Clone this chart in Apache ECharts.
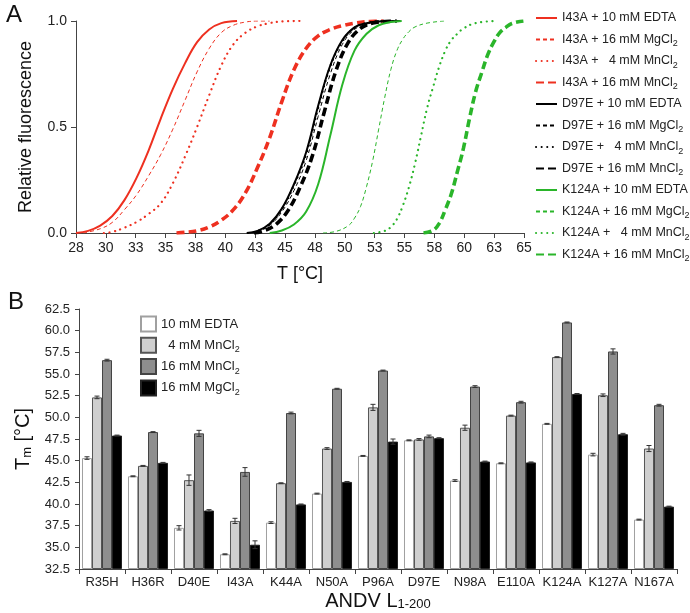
<!DOCTYPE html>
<html><head><meta charset="utf-8">
<script src="https://cdn.jsdelivr.net/npm/echarts@6/dist/echarts.min.js"></script>
<style>html,body{margin:0;padding:0;background:#fff}#c{width:690px;height:613px}</style>
</head><body><div id="c"></div>
<script>
// ---------- Panel A data ----------
const xTickLabels = ['28','30','33','35','38','40','43','45','48','50','53','55','58','60','63','65'];
const yTickLabelsA = ['0.0','0.5','1.0'];

const i43aEdta = [[28,0],[29,0.01],[30,0.035],[31,0.08],[32,0.155],[33,0.26],[34,0.39],[35,0.54],[36,0.68],[37,0.8],[38,0.9],[39,0.96],[40,0.99],[41.3,1.0]];
const i43aMg   = [[28.6,0],[30,0.02],[31,0.05],[32,0.11],[33,0.18],[34,0.27],[35,0.37],[36,0.49],[37,0.625],[38,0.76],[39,0.87],[40,0.945],[41,0.98],[42,0.995],[43,1.0],[44,1.0]];
const i43aMn4  = [[30.3,0],[31,0.005],[32,0.025],[33,0.052],[34,0.09],[35,0.14],[36,0.235],[37,0.36],[38,0.5],[39,0.65],[40,0.79],[41,0.89],[42,0.945],[43,0.975],[44,0.99],[45,0.998],[46.5,1.0]];
const i43aMn16 = [[36.3,0],[37,0.003],[38,0.01],[39,0.028],[40,0.06],[41,0.11],[42,0.19],[43,0.31],[44,0.45],[45,0.62],[46,0.77],[47,0.87],[48,0.93],[49,0.96],[50,0.978],[51,0.99],[52,0.997],[53.4,1.0]];

const d97eEdta = [[42.1,0],[43,0.01],[44,0.044],[45,0.115],[46,0.23],[47,0.38],[48,0.6],[49,0.79],[50,0.91],[51,0.97],[52,0.99],[53,0.998],[54.8,1.0]];
const d97eMg   = [[42.3,0],[43,0.008],[44,0.036],[45,0.1],[46,0.2],[47,0.34],[48,0.55],[49,0.75],[50,0.89],[51,0.96],[52,0.985],[53,0.997],[54.8,1.0]];
const d97eMn4  = [[42.2,0],[43,0.009],[44,0.042],[45,0.112],[46,0.225],[47,0.37],[48,0.59],[49,0.785],[50,0.905],[51,0.968],[52,0.99],[53,0.998],[54.5,1.0]];
const d97eMn16 = [[42.7,0],[43.5,0.01],[44.5,0.04],[45.5,0.105],[46.5,0.215],[47.5,0.36],[48.5,0.57],[49.5,0.77],[50.5,0.9],[51.5,0.965],[52.5,0.99],[53.5,0.998],[54.5,1.0]];

const k124aEdta = [[44,0],[45,0.012],[46,0.04],[47,0.1],[48,0.23],[49,0.46],[50,0.7],[51,0.86],[52,0.94],[53,0.98],[54,0.995],[54.9,1.0]];
const k124aMg   = [[48.4,0],[49.5,0.008],[50.5,0.035],[51,0.07],[51.5,0.125],[52,0.22],[52.5,0.34],[53,0.49],[53.5,0.64],[54,0.77],[54.5,0.86],[55,0.915],[55.5,0.95],[56,0.972],[57,0.99],[58.4,1.0]];
const k124aMn4  = [[52.6,0],[53.5,0.01],[54,0.028],[54.5,0.065],[55,0.13],[55.5,0.217],[56,0.328],[56.5,0.46],[57,0.59],[57.5,0.69],[58,0.785],[58.5,0.86],[59,0.91],[59.5,0.94],[60,0.965],[61,0.99],[62.6,1.0]];
const k124aMn16 = [[56.7,0],[57.5,0.013],[58,0.045],[58.5,0.11],[59,0.185],[59.5,0.29],[60,0.4],[60.5,0.54],[61,0.665],[61.5,0.755],[62,0.84],[62.5,0.9],[63,0.945],[63.5,0.97],[64,0.988],[64.95,1.0]];

const curveNames = [
  'I43A + 10 mM EDTA','I43A + 16 mM MgCl2','I43A +   4 mM MnCl2','I43A + 16 mM MnCl2',
  'D97E + 10 mM EDTA','D97E + 16 mM MgCl2','D97E +   4 mM MnCl2','D97E + 16 mM MnCl2',
  'K124A + 10 mM EDTA','K124A + 16 mM MgCl2','K124A +   4 mM MnCl2','K124A + 16 mM MnCl2'
];
const curveData = [i43aEdta,i43aMg,i43aMn4,i43aMn16,d97eEdta,d97eMg,d97eMn4,d97eMn16,k124aEdta,k124aMg,k124aMn4,k124aMn16];

// ---------- Panel B data ----------
const mutants = ['R35H','H36R','D40E','I43A','K44A','N50A','P96A','D97E','N98A','E110A','K124A','K127A','N167A'];
const groupNames = ['10 mM EDTA','  4 mM MnCl2','16 mM MnCl2','16 mM MgCl2'];
const tmEdta  = [45.3,43.2,37.25,34.2,37.85,41.2,45.55,47.35,42.7,44.7,49.25,45.7,38.2];
const tmMn4   = [52.3,44.4,42.75,38.05,42.4,46.4,51.15,47.45,48.8,50.2,56.95,52.55,46.4];
const tmMn16  = [56.6,48.3,48.15,43.7,50.5,53.3,55.4,47.8,53.55,51.75,60.95,57.6,51.4];
const tmMg16  = [47.9,44.75,39.25,35.3,39.95,42.55,47.2,47.6,44.9,44.8,52.7,48.05,39.7];
const errEdta = [0.15,0.05,0.25,0.05,0.1,0.05,0.05,0.05,0.1,0.05,0.05,0.15,0.05];
const errMn4  = [0.15,0.05,0.6,0.3,0.05,0.1,0.35,0.1,0.3,0.05,0.05,0.15,0.35];
const errMn16 = [0.1,0.05,0.35,0.5,0.1,0.05,0.05,0.15,0.1,0.1,0.05,0.3,0.1];
const errMg16 = [0.05,0.05,0.1,0.45,0.05,0.05,0.3,0.05,0.05,0.05,0.05,0.1,0.05];
const yTickLabelsB = ['32.5','35.0','37.5','40.0','42.5','45.0','47.5','50.0','52.5','55.0','57.5','60.0','62.5'];

// ---------- styles ----------
const FONT = 'Liberation Sans, Arial, sans-serif';
const RED = '#ee3020', BLACK = '#000000', GREEN = '#2ab52a';
const curveColors = [RED,RED,RED,RED,BLACK,BLACK,BLACK,BLACK,GREEN,GREEN,GREEN,GREEN];
const styleSet = [
  {width:2, type:'solid'},
  {width:1, type:[4,3]},
  {width:2.2, type:[0.1,5.5], cap:'round'},
  {width:3.6, type:[8,4]}
];
const barColors = ['#ffffff','#cfcfcf','#8e8e8e','#000000'];
const barBorders = ['#a0a0a0','#555555','#444444','#222222'];

const xStep = 37/15;
const xTickValues = xTickLabels.map((l,i)=>28 + i*xStep);

const sub = s => s.replace(/Cl2$/, 'Cl{sub|2}');
const richSub = {sub:{fontSize:9, lineHeight:9, verticalAlign:'bottom', fontFamily:FONT, color:'#222'}};

const series = [];
curveData.forEach((d,i)=>{
  series.push({
    type:'line', name:curveNames[i], data:d, xAxisIndex:0, yAxisIndex:0,
    smooth:0.4, symbol:'none', showSymbol:false,
    lineStyle:Object.assign({color:curveColors[i]}, styleSet[i%4]),
    itemStyle:{color:curveColors[i]},
    z: 3 + (i%4===0?1:0)
  });
});
const tmAll = [tmEdta,tmMn4,tmMn16,tmMg16];
const errAll = [errEdta,errMn4,errMn16,errMg16];
tmAll.forEach((vals,k)=>{
  series.push({
    type:'bar', name:groupNames[k], xAxisIndex:1, yAxisIndex:1,
    data:vals, barGap:'0%', barCategoryGap:'13%', clip:true,
    itemStyle:{color:barColors[k], borderColor:barBorders[k], borderWidth:1}
  });
});
errAll.forEach((errs,k)=>{
  series.push({
    type:'custom', xAxisIndex:1, yAxisIndex:1, z:10,
    data: errs.map((e,i)=>[i, tmAll[k][i], e]),
    encode:{x:0, y:1},
    renderItem:(params, api)=>{
      const idx = api.value(0), v = api.value(1), e = api.value(2);
      const band = api.size([1,0])[0];
      const bw = band*0.87/4;
      const c = api.coord([idx, v]);
      const x = c[0] + (k-1.5)*bw;
      const top = api.coord([idx, v+e])[1];
      const bot = api.coord([idx, v-e])[1];
      const hw = 2.5;
      const st = {stroke:'#333', lineWidth:1};
      return {type:'group', children:[
        {type:'line', shape:{x1:x,y1:top,x2:x,y2:bot}, style:st},
        {type:'line', shape:{x1:x-hw,y1:top,x2:x+hw,y2:top}, style:st},
        {type:'line', shape:{x1:x-hw,y1:bot,x2:x+hw,y2:bot}, style:st}
      ]};
    }
  });
});

const axisLineStyle = {color:'#444', width:1};

const option = {
  animation:false,
  backgroundColor:'#fff',
  textStyle:{fontFamily:FONT},
  title:[
    {text:'A', left:1, top:-2, textStyle:{fontSize:24, fontWeight:'normal', color:'#111', fontFamily:FONT}},
    {text:'B', left:3, top:285, textStyle:{fontSize:24, fontWeight:'normal', color:'#111', fontFamily:FONT}}
  ],
  grid:[
    {left:76, top:21, width:448, height:212},
    {left:79, top:309, width:598, height:260}
  ],
  xAxis:[
    {type:'value', gridIndex:0, min:28, max:65,
     name:'T [°C]', nameLocation:'middle', nameGap:32,
     nameTextStyle:{fontSize:18, color:'#111', fontFamily:FONT},
     axisLine:{lineStyle:axisLineStyle},
     axisTick:{show:true, length:5, lineStyle:axisLineStyle, customValues:xTickValues},
     axisLabel:{fontSize:14, color:'#222', margin:8, customValues:xTickValues,
       formatter:(v)=>xTickLabels[Math.round((v-28)/xStep)]},
     splitLine:{show:false}},
    {type:'category', gridIndex:1, data:mutants,
     name:'ANDV L{sub|1-200}', nameLocation:'middle', nameGap:22,
     nameTextStyle:{fontSize:20, color:'#111', fontFamily:FONT,
       rich:{sub:{fontSize:13, verticalAlign:'bottom', lineHeight:12, fontFamily:FONT, color:'#111'}}},
     axisLine:{lineStyle:axisLineStyle},
     axisTick:{show:true, length:5, alignWithLabel:false, lineStyle:axisLineStyle},
     axisLabel:{fontSize:13, color:'#222', margin:7, interval:0},
     splitLine:{show:false}}
  ],
  yAxis:[
    {type:'value', gridIndex:0, min:0, max:1, interval:0.5,
     name:'Relative fluorescence', nameLocation:'middle', nameGap:41, nameRotate:90,
     nameTextStyle:{fontSize:18, color:'#111', fontFamily:FONT},
     axisLine:{show:true, lineStyle:axisLineStyle},
     axisTick:{show:true, length:5, lineStyle:axisLineStyle},
     axisLabel:{fontSize:14, color:'#222', margin:9,
       formatter:(v)=>yTickLabelsA[Math.round(v/0.5)]},
     splitLine:{show:false}},
    {type:'value', gridIndex:1, min:32.5, max:62.5, interval:2.5, startValue:32.5,
     name:'T{sub|m} [°C]', nameLocation:'middle', nameGap:42, nameRotate:90,
     nameTextStyle:{fontSize:20, color:'#111', fontFamily:FONT,
       rich:{sub:{fontSize:13, verticalAlign:'bottom', lineHeight:12, fontFamily:FONT, color:'#111'}}},
     axisLine:{show:true, lineStyle:axisLineStyle},
     axisTick:{show:true, length:4, lineStyle:axisLineStyle},
     axisLabel:{fontSize:13, color:'#222', margin:9,
       formatter:(v)=>yTickLabelsB[Math.round((v-32.5)/2.5)]},
     splitLine:{show:false}}
  ],
  legend:[
    {orient:'vertical', left:535, top:9, padding:0, itemWidth:21, itemHeight:14, itemGap:3.5,
     data:curveNames, selectedMode:false,
     itemStyle:{opacity:0},
     formatter:sub,
     textStyle:{fontSize:12.5, color:'#222', fontFamily:FONT, lineHeight:18, rich:richSub}},
    {orient:'vertical', left:140, top:315, padding:0, itemWidth:15, itemHeight:15, itemGap:3.3,
     data:groupNames, selectedMode:false, icon:'rect',
     formatter:sub,
     textStyle:{fontSize:13, color:'#222', fontFamily:FONT, lineHeight:18, rich:richSub}}
  ],
  series:series
};
const chart = echarts.init(document.getElementById('c'), null, {renderer:'canvas'});
chart.setOption(option);
</script></body></html>
